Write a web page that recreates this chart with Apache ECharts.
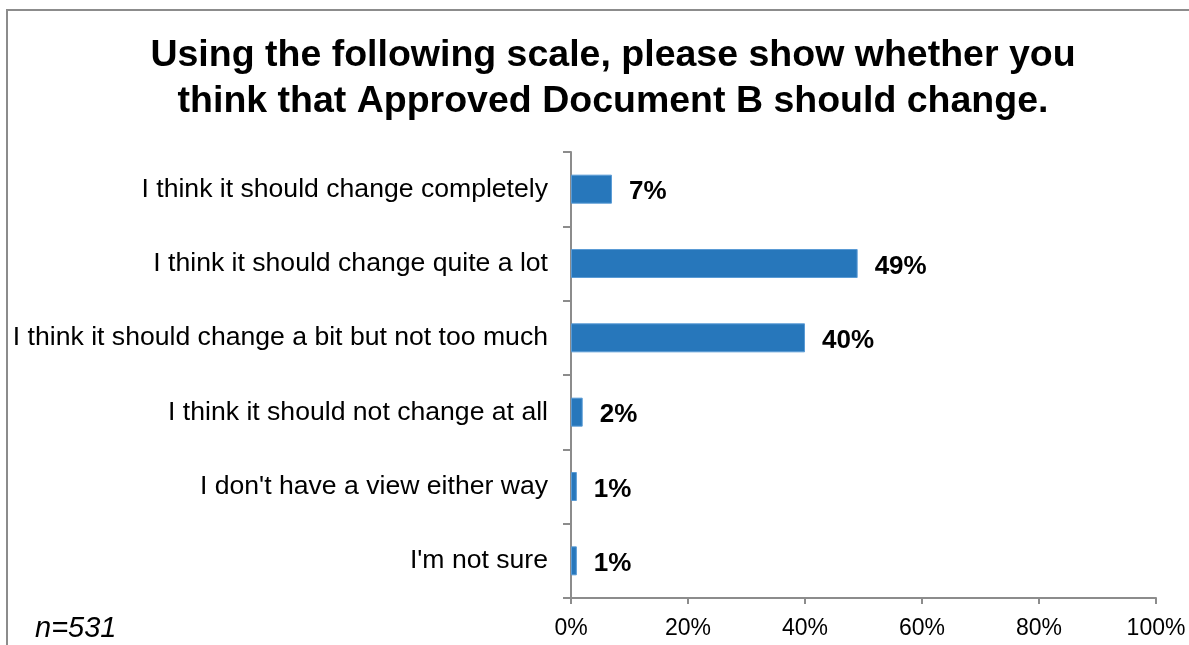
<!DOCTYPE html>
<html>
<head>
<meta charset="utf-8">
<script src="https://cdn.jsdelivr.net/npm/echarts@6/dist/echarts.min.js"></script>
<style>
  html, body { margin: 0; padding: 0; background: #fff; }
  #chart { width: 1189px; height: 645px; }
</style>
</head>
<body>
<div id="chart"></div>
<script>
// Survey answers, top to bottom
const categories = [
  "I think it should change completely",
  "I think it should change quite a lot",
  "I think it should change a bit but not too much",
  "I think it should not change at all",
  "I don't have a view either way",
  "I'm not sure"
];
// Share of respondents (%)
const shares = [7, 49, 40, 2, 1, 1];
// Horizontal axis ticks (%)
const axisMin = 0;
const axisMax = 100;
const axisStep = 20;
const titleLines = [
  "Using the following scale, please show whether you",
  "think that Approved Document B should change."
];
const sampleNote = "n=531";

const font = "'Liberation Sans', Arial, sans-serif";
const gray = "#8c8c8c";

const chart = echarts.init(document.getElementById("chart"), null, { renderer: "canvas" });

chart.setOption({
  backgroundColor: "#ffffff",
  animation: false,
  title: {
    text: titleLines.join("\n"),
    left: 608,
    top: 28,
    textAlign: "center",
    textStyle: {
      fontFamily: font,
      fontWeight: "bold",
      fontSize: 37.5,
      lineHeight: 46,
      color: "#000"
    }
  },
  graphic: [
    {
      type: "polyline",
      shape: { points: [[7, 645], [7, 10], [1189, 10]] },
      style: { stroke: gray, lineWidth: 2, fill: null }
    },
    {
      type: "text",
      left: 35,
      top: 614,
      style: {
        text: sampleNote,
        fontFamily: font,
        fontStyle: "italic",
        fontSize: 29,
        fill: "#000"
      }
    }
  ],
  grid: {
    left: 571,
    right: 33,
    top: 152,
    bottom: 47,
    containLabel: false
  },
  xAxis: {
    type: "value",
    min: axisMin,
    max: axisMax,
    interval: axisStep,
    axisLine: { show: true, lineStyle: { color: gray, width: 2 } },
    axisTick: { show: true, length: 6, lineStyle: { color: gray, width: 2 } },
    splitLine: { show: false },
    axisLabel: {
      formatter: "{value}%",
      fontFamily: font,
      fontSize: 23,
      color: "#000",
      margin: 19
    }
  },
  yAxis: {
    type: "category",
    data: categories,
    inverse: true,
    axisLine: { show: true, lineStyle: { color: gray, width: 2 } },
    axisTick: { show: true, length: 8, alignWithLabel: false, lineStyle: { color: gray, width: 2 } },
    axisLabel: {
      fontFamily: font,
      fontSize: 26.6,
      color: "#000",
      margin: 23
    }
  },
  series: [
    {
      type: "bar",
      data: shares,
      barWidth: 29,
      itemStyle: { color: "#2777bb", borderColor: "#5a9bd5", borderWidth: 1 },
      label: {
        show: true,
        position: "right",
        distance: 17,
        offset: [0, 3],
        formatter: "{c}%",
        fontFamily: font,
        fontWeight: "bold",
        fontSize: 26,
        color: "#000"
      }
    }
  ]
});
</script>
</body>
</html>
